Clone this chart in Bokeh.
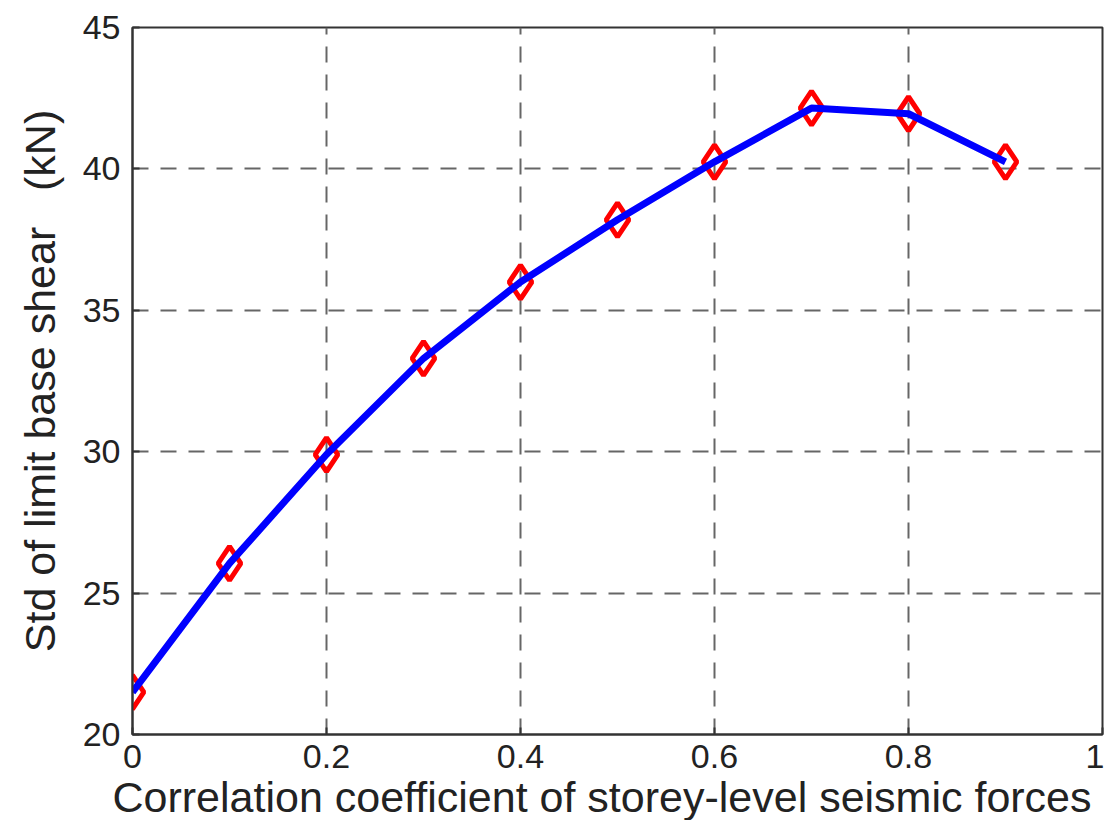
from bokeh.plotting import figure
from bokeh.models import Range1d, FixedTicker, Title
from bokeh.embed import file_html
from bokeh.resources import INLINE

corr = [0.0, 0.1, 0.2, 0.3, 0.4, 0.5, 0.6, 0.7, 0.8, 0.9]
std_shear = [21.5, 26.05, 29.9, 33.3, 36.0, 38.2, 40.25, 42.15, 41.95, 40.25]
x_ticks = [0, 0.2, 0.4, 0.6, 0.8, 1.0]
y_ticks = [20, 25, 30, 35, 40, 45]
x_label = "Correlation coefficient of storey-level seismic forces"
y_label = "Std of limit base shear\u00a0\u00a0 (kN)"

FONT = "Liberation Sans"

p = figure(width=1104, height=820, output_backend="svg", toolbar_location=None,
           x_range=Range1d(0, 1), y_range=Range1d(20, 45),
           min_border_left=132, min_border_right=2, min_border_top=27, min_border_bottom=20)

p.xaxis.ticker = FixedTicker(ticks=x_ticks)
p.yaxis.ticker = FixedTicker(ticks=y_ticks)
p.xaxis.major_label_overrides = {0: "0", 0.2: "0.2", 0.4: "0.4", 0.6: "0.6", 0.8: "0.8", 1.0: "1"}

for ax in (p.xaxis[0], p.yaxis[0]):
    ax.major_label_text_font = FONT
    ax.major_label_text_font_size = "34px"
    ax.major_label_text_color = "#222222"
    ax.axis_label_text_font = FONT
    ax.axis_label_text_font_style = "normal"
    ax.axis_label_text_font_size = "43px"
    ax.axis_label_text_color = "#222222"
    ax.axis_line_color = "#333333"
    ax.axis_line_width = 2
    ax.major_tick_in = 7
    ax.major_tick_out = 0
    ax.major_tick_line_color = "#333333"
    ax.major_tick_line_width = 2
    ax.minor_tick_line_color = None

p.yaxis.axis_label = y_label
p.xaxis.major_label_standoff = 10
p.yaxis.major_label_standoff = 12
p.yaxis.axis_label_standoff = 16

xt = Title(text=x_label, align="left", offset=-20, standoff=0,
           text_font=FONT, text_font_size="43px", text_font_style="normal",
           text_color="#222222")
p.add_layout(xt, "below")

p.outline_line_color = "#333333"
p.outline_line_width = 2

p.grid.grid_line_color = "#666666"
p.grid.grid_line_width = 2
p.grid.grid_line_dash = "16 12"

p.scatter(corr, std_shear, marker="diamond", size=34, fill_color="white", fill_alpha=0,
          line_color="#ff0000", line_width=5)
p.line(corr, std_shear, line_color="#0000ff", line_width=7)

open("out.html", "w").write(file_html(p, INLINE))
